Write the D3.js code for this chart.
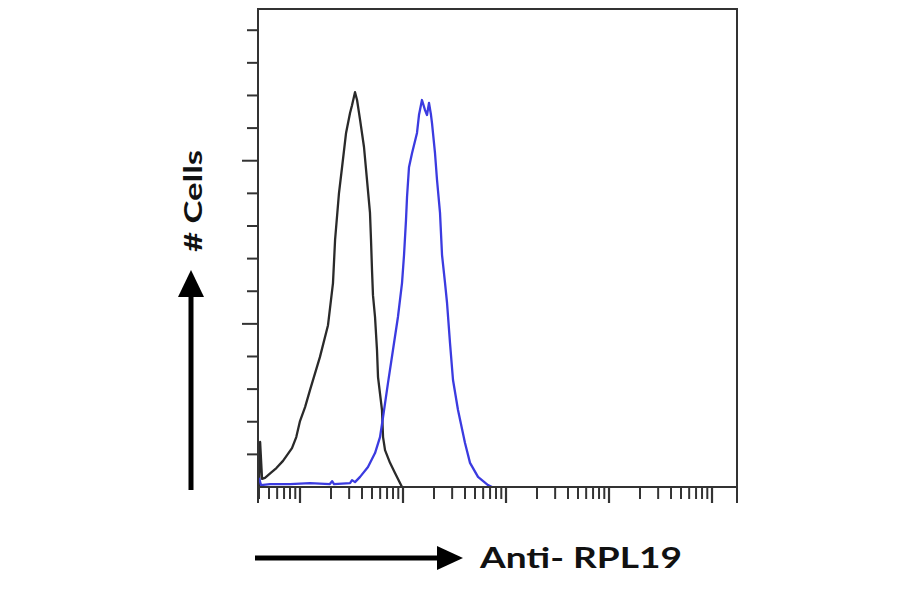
<!DOCTYPE html>
<html>
<head>
<meta charset="utf-8">
<script src="https://cdn.jsdelivr.net/npm/d3@7"></script>
<style>
  html, body { margin: 0; padding: 0; background: #fff; }
  svg { display: block; }
</style>
</head>
<body>
<svg id="chart" width="900" height="594"></svg>
<script>
// ---- data ----
// Isotype control (black) histogram: fluorescence intensity vs cell count
const controlIntensity = [4.0, 4.1, 4.28, 4.57, 5.2, 5.9, 6.84, 8.36, 9.2, 10, 11.2, 12.5, 15.6, 18.7, 20.9, 21.9, 23.9, 25.6, 28.0, 30.6, 32.0, 34.2, 35.8, 38.3, 41.8, 44.7, 47.8, 48.9, 50.0, 51.1, 53.5, 55.9, 57.2, 62.5, 64.0, 66.9, 74.8, 83.6, 93.5, 97.8];
const controlCount     = [0, 13.8, 2.5, 2.8, 4.3, 5.8, 8.0, 11.9, 15.3, 20.2, 24.5, 29.7, 39.8, 49.6, 62.5, 75.7, 90.1, 98.0, 108.5, 114.6, 117.0, 121.0, 118.6, 112.5, 104.2, 94.1, 84.0, 75.7, 66.5, 58.8, 52.1, 42.0, 33.7, 23.6, 15.3, 11.3, 7.4, 4.3, 1.2, 0];

// Anti-RPL19 stained (blue) histogram
const stainedIntensity = [4.0, 4.18, 5.12, 8.0, 12.5, 19.5, 20.5, 21.4, 30.6, 32.0, 34.2, 38.3, 45.7, 53.5, 59.8, 64.0, 71.5, 79.9, 89.3, 97.8, 102.3, 106.9, 109.4, 114.3, 122.3, 136.7, 142.9, 152.8, 163.6, 171.0, 178.8, 187.0, 191.2, 204.5, 213.9, 228.7, 239.3, 255.9, 267.6, 286.0, 305.8, 341.9, 399.9, 447.2, 534.6, 668.7, 731.4];
const stainedCount     = [2.8, 0.6, 0.9, 0.9, 1.2, 0.9, 1.8, 0.9, 1.2, 2.1, 1.5, 3.1, 6.1, 10.4, 15.3, 21.4, 31.9, 42.0, 52.1, 62.5, 71.1, 81.8, 88.9, 98.0, 102.3, 108.5, 114.0, 118.6, 115.5, 114.0, 117.7, 114.0, 111.5, 102.3, 94.1, 84.0, 71.1, 62.5, 56.4, 44.1, 32.8, 23.6, 13.5, 7.4, 3.1, 0.6, 0];

// axis ticks
const xDomain = [3.91, 174800];
const xDecades = [10, 100, 1000, 10000, 100000];
const xMinorMultipliers = [2, 3, 4, 5, 6, 7, 8, 9];
const yDomain = [0, 146.5];
const yTicks = [10, 20, 30, 40, 50, 60, 70, 80, 90, 100, 110, 120, 130, 140];
const yMajorTicks = [50, 100];

const xLabel = "Anti- RPL19";
const yLabel = "# Cells";

// ---- layout ----
const pLeft = 258, pTop = 9, pRight = 737, pBottom = 487;
const svg = d3.select("#chart");

const x = d3.scaleLog().domain(xDomain).range([pLeft, pRight]);
const y = d3.scaleLinear().domain(yDomain).range([pBottom, pTop]);

const axisColor = "#333";

// y ticks
svg.append("g").selectAll("line").data(yTicks).join("line")
  .attr("x1", d => yMajorTicks.includes(d) ? pLeft - 16 : pLeft - 11)
  .attr("x2", pLeft)
  .attr("y1", d => y(d)).attr("y2", d => y(d))
  .attr("stroke", axisColor).attr("stroke-width", 2);

// x ticks (log decades + minor)
const minorVals = [];
[1, 10, 100, 1000, 10000, 100000].forEach(dec => {
  xMinorMultipliers.forEach(m => {
    const v = dec * m;
    if (v > xDomain[0] && v < xDomain[1] && !xDecades.includes(v)) minorVals.push(v);
  });
});
svg.append("g").selectAll("line").data(minorVals).join("line")
  .attr("x1", d => x(d)).attr("x2", d => x(d))
  .attr("y1", pBottom).attr("y2", pBottom + 12)
  .attr("stroke", axisColor).attr("stroke-width", 2);
svg.append("g").selectAll("line").data(xDecades).join("line")
  .attr("x1", d => x(d)).attr("x2", d => x(d))
  .attr("y1", pBottom).attr("y2", pBottom + 16)
  .attr("stroke", axisColor).attr("stroke-width", 2.2);
// edge ticks
svg.append("g").selectAll("line").data(xDomain).join("line")
  .attr("x1", d => x(d)).attr("x2", d => x(d))
  .attr("y1", pBottom).attr("y2", pBottom + 16)
  .attr("stroke", axisColor).attr("stroke-width", 2);

// curves
svg.append("clipPath").attr("id", "plotclip")
  .append("rect").attr("x", pLeft).attr("y", pTop).attr("width", pRight - pLeft).attr("height", pBottom - pTop);

const line = d3.line().x(d => x(d[0])).y(d => y(d[1]));
const control = controlIntensity.map((v, i) => [v, controlCount[i]]);
const stained = stainedIntensity.map((v, i) => [v, stainedCount[i]]);

const g = svg.append("g").attr("clip-path", "url(#plotclip)");
g.append("path").datum(control).attr("d", line)
  .attr("fill", "none").attr("stroke", "#2a2a2a").attr("stroke-width", 2.3).attr("stroke-linejoin", "round");
g.append("path").datum(stained).attr("d", line)
  .attr("fill", "none").attr("stroke", "#3b3be0").attr("stroke-width", 2.3).attr("stroke-linejoin", "round");

// frame
svg.append("rect").attr("x", pLeft).attr("y", pTop).attr("width", pRight - pLeft).attr("height", pBottom - pTop)
  .attr("fill", "none").attr("stroke", axisColor).attr("stroke-width", 2);

// arrows and labels
svg.append("line").attr("x1", 255).attr("x2", 440).attr("y1", 558).attr("y2", 558)
  .attr("stroke", "#000").attr("stroke-width", 5);
svg.append("path").attr("d", "M437,546 L463,558 L437,570 Z").attr("fill", "#000");
svg.append("text").attr("x", 480).attr("y", 568)
  .attr("font-family", "Lato, 'Open Sans', sans-serif").attr("font-weight", 700)
  .attr("font-size", 28).attr("textLength", 202).attr("lengthAdjust", "spacingAndGlyphs")
  .attr("fill", "#111").text(xLabel);

svg.append("line").attr("x1", 191).attr("x2", 191).attr("y1", 490).attr("y2", 292)
  .attr("stroke", "#000").attr("stroke-width", 5);
svg.append("path").attr("d", "M178,297 L191,270 L204,297 Z").attr("fill", "#000");
svg.append("text").attr("transform", "translate(202,252) rotate(-90)")
  .attr("font-family", "Lato, 'Open Sans', sans-serif").attr("font-weight", 700)
  .attr("font-size", 24).attr("textLength", 102).attr("lengthAdjust", "spacingAndGlyphs")
  .attr("fill", "#111").text(yLabel);
</script>
</body>
</html>
